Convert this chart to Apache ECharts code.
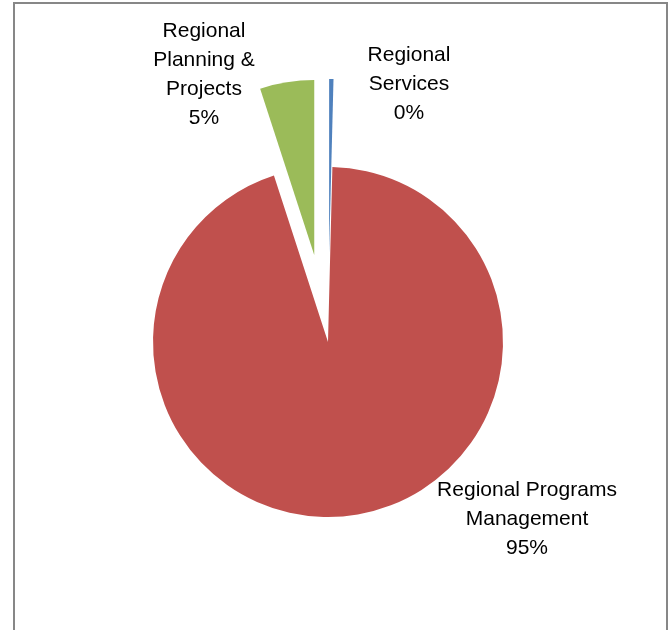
<!DOCTYPE html>
<html>
<head>
<meta charset="utf-8">
<script src="https://cdn.jsdelivr.net/npm/echarts@6/dist/echarts.min.js"></script>
<style>
html,body{margin:0;padding:0;background:#fff;}
#chart{width:669px;height:630px;}
</style>
</head>
<body>
<div id="chart"></div>
<script>
const categories = ['Regional Services', 'Regional Programs Management', 'Regional Planning & Projects'];
const labelTexts = ['Regional\nServices', 'Regional Programs\nManagement', 'Regional\nPlanning &\nProjects'];
const values = [0.4, 94.6, 5.0];
const colors = ['#4F81BD', '#C0504D', '#9BBB59'];
const exploded = [true, false, true];

const labelPos = [[409, 84], [527, 519], [204, 75]];

const total = values.reduce((a, b) => a + b, 0);
const chart = echarts.init(document.getElementById('chart'));

const common = {
  type: 'pie',
  center: [328, 342],
  radius: 175,
  startAngle: 90,
  clockwise: true,
  avoidLabelOverlap: false,
  emphasis: {disabled: true}
};

chart.setOption({
  animation: false,
  graphic: [{
    type: 'rect', silent: true,
    shape: {x: 14, y: 3, width: 653, height: 660},
    style: {fill: 'none', stroke: '#878787', lineWidth: 2}
  }],
  series: [
    Object.assign({}, common, {
      name: 'slices',
      selectedMode: 'multiple',
      selectedOffset: 88,
      label: {show: false},
      labelLine: {show: false},
      data: categories.map((c, i) => ({
        name: c,
        value: values[i],
        selected: exploded[i],
        itemStyle: {color: colors[i]}
      }))
    }),
    Object.assign({}, common, {
      name: 'labels',
      silent: true,
      selectedMode: false,
      z: 3,
      itemStyle: {color: 'rgba(0,0,0,0)'},
      label: {
        show: true,
        position: 'outside',
        color: '#000',
        fontFamily: 'Liberation Sans, Arial, sans-serif',
        fontSize: 21,
        lineHeight: 29,
        align: 'center',
        formatter: function (p) {
          return labelTexts[p.dataIndex] + '\n' + Math.round(p.value / total * 100) + '%';
        }
      },
      labelLine: {show: false},
      labelLayout: function (p) {
        const pos = labelPos[p.dataIndex];
        return {x: pos[0], y: pos[1], align: 'center', verticalAlign: 'middle'};
      },
      data: categories.map((c, i) => ({name: c, value: values[i]}))
    })
  ]
});
</script>
</body>
</html>
